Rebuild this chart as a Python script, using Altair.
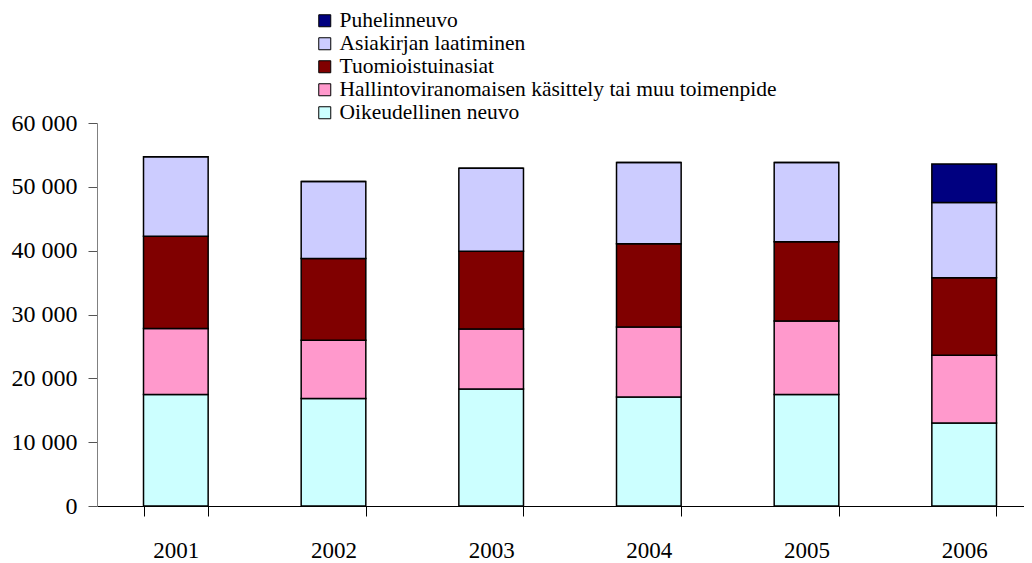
import altair as alt
import pandas as pd

years = ["2001", "2002", "2003", "2004", "2005", "2006"]
series = [
    "Oikeudellinen neuvo",
    "Hallintoviranomaisen käsittely tai muu toimenpide",
    "Tuomioistuinasiat",
    "Asiakirjan laatiminen",
    "Puhelinneuvo",
]
oikeudellinen = [17460, 16830, 18340, 17080, 17460, 13010]
hallinto = [10350, 9140, 9400, 10980, 11540, 10610]
tuomio = [14460, 12810, 12180, 13010, 12380, 12120]
asiakirja = [12430, 12070, 13010, 12750, 12440, 11810]
puhelin = [0, 0, 0, 0, 0, 6010]
colors = ["#CCFFFF", "#FF99CC", "#800000", "#CCCCFF", "#000080"]

values = [oikeudellinen, hallinto, tuomio, asiakirja, puhelin]
rows = []
for si, (name, vals) in enumerate(zip(series, values)):
    for y, v in zip(years, vals):
        rows.append({"Vuosi": y, "Sarja": name, "Arvo": v, "jarj": si})
df = pd.DataFrame(rows)

legend_order = list(reversed(series))
legend_colors = list(reversed(colors))

FONT = "'Liberation Serif', 'Times New Roman', serif"

chart = (
    alt.Chart(df)
    .mark_bar(stroke="black", strokeWidth=1.5)
    .encode(
        x=alt.X(
            "Vuosi:N",
            sort=years,
            title=None,
            scale=alt.Scale(range=[0, 946], paddingInner=0.59, paddingOuter=0.295),
            axis=alt.Axis(
                labelAngle=0,
                labelFont=FONT,
                labelFontSize=23,
                labelColor="black",
                labelPadding=23,
                tickBand="extent",
                tickSize=10,
                tickColor="black",
                domainColor="black",
                domainWidth=1,
                grid=False,
            ),
        ),
        y=alt.Y(
            "Arvo:Q",
            stack="zero",
            title=None,
            scale=alt.Scale(domain=[0, 60000], nice=False),
            axis=alt.Axis(
                values=[0, 10000, 20000, 30000, 40000, 50000, 60000],
                labelExpr="replace(format(datum.value, ','), ',', ' ')",
                labelFont=FONT,
                labelFontSize=24,
                labelColor="black",
                labelPadding=11,
                tickSize=9,
                tickColor="#555555",
                domainColor="#808080",
                grid=False,
            ),
        ),
        color=alt.Color(
            "Sarja:N",
            scale=alt.Scale(domain=legend_order, range=legend_colors),
            legend=alt.Legend(
                title=None,
                orient="none",
                legendX=217,
                legendY=-113,
                symbolType="square",
                symbolSize=144,
                symbolStrokeColor="black",
                symbolStrokeWidth=1,
                symbolOpacity=1,
                labelFont=FONT,
                labelFontSize=21.5,
                labelColor="black",
                labelOffset=4,
                rowPadding=0,
                labelLimit=600,
            ),
        ),
        order=alt.Order("jarj:Q", sort="ascending"),
    )
    .properties(
        width=927,
        height=383,
        autosize=alt.AutoSizeParams(type="none"),
        padding={"left": 89, "top": 115, "right": 0, "bottom": 57},
    )
    .configure_view(stroke=None)
)

chart.save("out.html", embed_options={"renderer": "svg", "actions": False})
